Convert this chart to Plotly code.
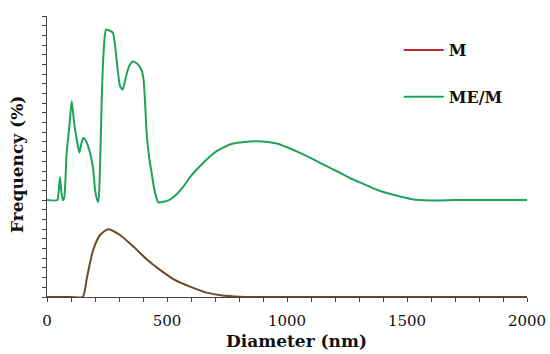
import plotly.graph_objects as go

# ---- data ----
diam_m = [0, 100, 149, 165, 179, 193, 221, 255, 304, 360, 415, 471, 530, 596, 665, 730, 804, 900, 1000, 1500, 2000]
freq_m = [0, 0, 0, 1.8, 3.5, 4.9, 6.4, 7.0, 6.4, 5.2, 3.9, 2.8, 1.8, 1.07, 0.45, 0.15, 0.03, 0, 0, 0, 0]

diam_mem = [0, 43, 48, 54, 60, 66, 72, 82, 93, 103, 113, 124, 135, 143, 151, 160, 172, 183, 193, 200, 207,
            214, 221, 228, 235, 246, 260, 274, 282, 293, 304, 315, 325, 335, 346, 357, 375, 394, 402, 408,
            415, 425, 436, 445, 455, 464, 490, 512, 540, 568, 600, 637, 670, 707, 740, 776, 820, 874, 920,
            957, 1000, 1054, 1110, 1165, 1210, 1262, 1320, 1374, 1420, 1471, 1510, 1554, 1600, 1637, 1700,
            1800, 1900, 2000]
freq_mem = [0, 0, 0.8, 2.35, 0.8, 0, 0.3, 4.9, 7.6, 10.2, 8.0, 6.25, 4.9, 5.8, 6.4, 6.2, 5.5, 4.5, 3.1, 1.1, 0.2,
            -0.2, 3.5, 10.4, 14.9, 17.6, 17.5, 17.3, 16.3, 13.8, 11.8, 11.4, 12.3, 13.3, 14.0, 14.3, 14.1, 13.4, 12.5, 10.4,
            7.0, 4.5, 2.8, 1.4, 0.3, -0.24, -0.15, 0.04, 0.6, 1.4, 2.5, 3.5, 4.3, 5.05, 5.5, 5.84, 6.0, 6.08, 6.0,
            5.84, 5.45, 4.87, 4.2, 3.5, 2.95, 2.28, 1.65, 1.07, 0.7, 0.38, 0.15, 0.0, -0.03, -0.03, 0,
            0, 0, 0]
mem_offset = 10  # vertical display offset of the ME/M curve

x_tick_vals = list(range(0, 2001, 100))
x_tick_text = [str(v) if v % 500 == 0 else "" for v in x_tick_vals]

FONT = "DejaVu Serif"
RED = "#C0282F"
BROWN = "#6E4A22"
GREEN = "#1DA35A"

fig = go.Figure()
fig.add_trace(go.Scatter(x=diam_m, y=freq_m, mode="lines", line=dict(color=BROWN, width=2, shape="spline", smoothing=0.6),
                         showlegend=False, hoverinfo="skip"))
fig.add_trace(go.Scatter(x=diam_mem, y=[v + mem_offset for v in freq_mem], mode="lines",
                         line=dict(color=GREEN, width=2, shape="spline", smoothing=0.6),
                         showlegend=False))
# legend entries
fig.add_trace(go.Scatter(x=[None], y=[None], mode="lines", name="M", line=dict(color=RED, width=2), legendgroup="a"))
fig.add_trace(go.Scatter(x=[None], y=[None], mode="lines", name="ME/M", line=dict(color=GREEN, width=2), legendgroup="b"))

fig.update_layout(
    width=550, height=354,
    margin=dict(l=47, r=23, t=16, b=57, autoexpand=False),
    paper_bgcolor="white", plot_bgcolor="white",
    font=dict(family=FONT, size=15, color="#111"),
    legend=dict(xref="container", yref="container", x=0.725, y=1 - 33 / 354, xanchor="left", yanchor="top",
                tracegroupgap=23,
                font=dict(family=FONT, size=16, color="#111", weight="bold"), itemwidth=40,
                bgcolor="rgba(0,0,0,0)"),
    xaxis=dict(range=[0, 2000], tickvals=x_tick_vals, ticktext=x_tick_text, ticks="outside", ticklen=4,
               tickcolor="#444", showline=True, linecolor="#444", linewidth=1, showgrid=False, zeroline=False,
               tickfont=dict(family=FONT, size=15, color="#111"), ticklabelstandoff=6, automargin=False),
    yaxis=dict(range=[0, 29], dtick=1, tick0=0, ticks="outside", ticklen=4, tickcolor="#444",
               showline=True, linecolor="#444", linewidth=1, showgrid=False, zeroline=False,
               showticklabels=False, automargin=False),
    annotations=[
        dict(text="<b>Diameter (nm)</b>", xref="paper", yref="paper", x=(296 - 47) / 480, y=(297 - 341) / 281,
             xanchor="center", yanchor="middle", showarrow=False, font=dict(family=FONT, size=17, color="#111")),
        dict(text="<b>Frequency (%)</b>", xref="paper", yref="paper", x=(17 - 47) / 480, y=(297 - 165) / 281,
             xanchor="center", yanchor="middle", textangle=-90, showarrow=False,
             font=dict(family=FONT, size=17, color="#111")),
    ],
)

fig.write_html("out.html", config={"displayModeBar": False},
               post_script="document.body.style.margin='0';document.body.style.overflow='hidden';")
